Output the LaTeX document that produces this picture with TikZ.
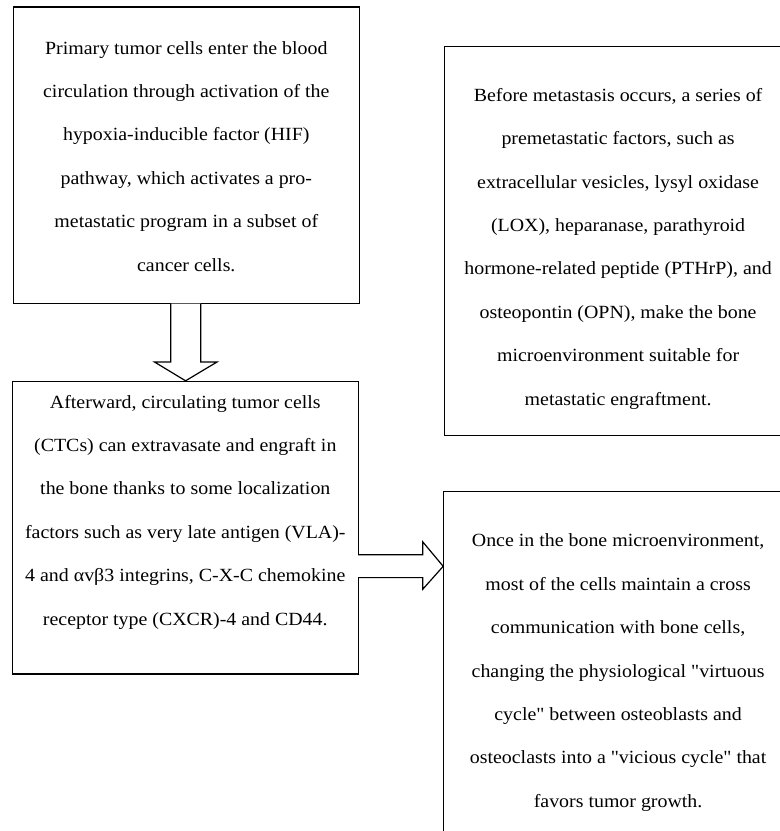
\documentclass[tikz,border=0pt]{standalone}
\usepackage{fontspec}
\setmainfont{Liberation Serif}[FakeStretch=1.07, Ligatures=TeXOff]
\usetikzlibrary{calc}
\tikzset{
  box/.style={draw=black, line width=1.3pt, rectangle, inner sep=0pt, outer sep=0pt},
  boxtext/.style={align=center, anchor=base, inner sep=0pt, text=black,
    font=\fontsize{18.6pt}{43.4pt}\selectfont},
  blockarrow/.style={draw=black, line width=1.2pt, fill=white, line join=miter}
}
\begin{document}
\begin{tikzpicture}[x=1pt,y=-1pt]
\path[use as bounding box, clip] (0,0) rectangle (780,831);
\fill[white] (0,0) rectangle (780,831);
% boxes
\node[box, minimum width=345.8pt, minimum height=296.8pt] (b1) at (186.3,155.3) {};
\node[box, minimum width=345.8pt, minimum height=292.5pt] (b2) at (185.3,527.85) {};
\node[box, minimum width=347.8pt, minimum height=389pt] (b3) at (618.1,241.1) {};
\node[box, minimum width=349.8pt, minimum height=380pt] (b4) at (618.1,681.8) {};
% texts (anchor base = baseline of the last line)
\node[boxtext] (t1) at (186.3,271) {Primary tumor cells enter the blood\\circulation through activation of the\\hypoxia-inducible factor (HIF)\\pathway, which activates a pro-\\metastatic program in a subset of\\cancer cells.};
\node[boxtext] (t2) at (185.3,625) {Afterward, circulating tumor cells\\(CTCs) can extravasate and engraft in\\the bone thanks to some localization\\factors such as very late antigen (VLA)-\\4 and αvβ3 integrins, C-X-C chemokine\\receptor type (CXCR)-4 and CD44.};
\node[boxtext] (t3) at (618.1,405) {Before metastasis occurs, a series of\\premetastatic factors, such as\\extracellular vesicles, lysyl oxidase\\(LOX), heparanase, parathyroid\\hormone-related peptide (PTHrP), and\\osteopontin (OPN), make the bone\\microenvironment suitable for\\metastatic engraftment.};
\node[boxtext] (t4) at (618.1,807.3) {Once in the bone microenvironment,\\most of the cells maintain a cross\\communication with bone cells,\\changing the physiological "virtuous\\cycle" between osteoblasts and\\osteoclasts into a "vicious cycle" that\\favors tumor growth.};
% down block arrow b1 -> b2
\draw[blockarrow]
  ($(b1.south)+(-15.5,0)$) -- ($(b1.south)+(-15.5,58.3)$) -- ($(b1.south)+(-31.8,58.3)$)
  -- ($(b2.north)+(0.3,-0.8)$) -- ($(b1.south)+(30.7,58.3)$) -- ($(b1.south)+(14.5,58.3)$)
  -- ($(b1.south)+(14.5,0)$);
% right block arrow b2 -> b4
\draw[blockarrow]
  ($(b2.east |- 0,554.8)$) -- (422.7,554.8) -- (422.7,541.8)
  -- ($(b4.west |- 0,566.3)$) -- (422.7,589.3) -- (422.7,577.6)
  -- ($(b2.east |- 0,577.6)$);
\end{tikzpicture}
\end{document}
